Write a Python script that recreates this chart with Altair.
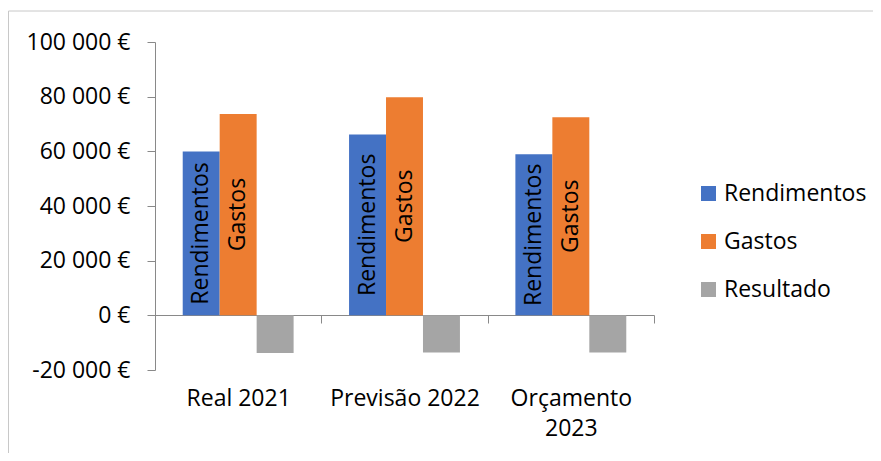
import altair as alt
import pandas as pd

categories = ["Real 2021", "Previsão 2022", "Orçamento 2023"]
series = ["Rendimentos", "Gastos", "Resultado"]
rendimentos = [59900, 66200, 58900]
gastos = [73700, 79800, 72500]
resultado = [-13800, -13600, -13600]
colors = ["#4472C4", "#ED7D31", "#A5A5A5"]
y_ticks = [-20000, 0, 20000, 40000, 60000, 80000, 100000]

rows = []
for i, c in enumerate(categories):
    for s, vals in zip(series, [rendimentos, gastos, resultado]):
        rows.append({"categoria": c, "serie": s, "valor": vals[i]})
df = pd.DataFrame(rows)

FONT = "Open Sans"
FS = 23
AX = "#898989"

x_enc = alt.X(
    "categoria:N", sort=categories, title=None,
    scale=alt.Scale(domain=categories, paddingInner=0, paddingOuter=0),
    axis=alt.Axis(
        offset=-55, domain=True, domainColor=AX, ticks=True, tickColor=AX,
        tickSize=8, tickBand="extent", labelAngle=0, labelFont=FONT,
        labelFontSize=FS, labelColor="black", labelPadding=64,
        labelBaseline="top", labelLineHeight=30,
        labelExpr="datum.label == 'Orçamento 2023' ? ['Orçamento', '2023'] : datum.label",
    ),
)
xoff_enc = alt.XOffset(
    "serie:N", sort=series,
    scale=alt.Scale(domain=series, paddingInner=0, paddingOuter=0.75),
)
y_enc = alt.Y(
    "valor:Q", title=None,
    scale=alt.Scale(domain=[-20000, 100000], nice=False, zero=True),
    axis=alt.Axis(
        values=y_ticks, grid=False, domainColor=AX, tickColor=AX, tickSize=8,
        labelPadding=17, labelFont=FONT, labelFontSize=FS, labelColor="black",
        labelExpr="(datum.value < 0 ? '-' : '') + replace(format(abs(datum.value), ','), ',', ' ') + ' €'",
    ),
)

bars = alt.Chart(df).mark_bar().encode(
    x=x_enc,
    xOffset=xoff_enc,
    y=y_enc,
    color=alt.Color(
        "serie:N", sort=series, title=None,
        scale=alt.Scale(domain=series, range=colors),
        legend=alt.Legend(
            orient="none", legendX=542, legendY=140, symbolType="square",
            symbolSize=225, symbolStrokeWidth=0, labelFont=FONT,
            labelFontSize=FS, labelColor="black", rowPadding=24,
            labelOffset=4,
        ),
    ),
)

labels = alt.Chart(df).transform_filter(
    "datum.serie != 'Resultado'"
).transform_calculate(
    meio="datum.valor / 2"
).mark_text(
    angle=270, font=FONT, fontSize=FS, color="black", align="center", baseline="middle"
).encode(
    x=alt.X("categoria:N", sort=categories),
    xOffset=alt.XOffset("serie:N", sort=series),
    y=alt.Y("meio:Q"),
    text="serie:N",
)

frame_df = pd.DataFrame({"k": [0]})
top_line = alt.Chart(frame_df).mark_rule(color="#C8C8C8", strokeWidth=1).encode(
    x=alt.value(-146.5), x2=alt.value(900), y=alt.value(-31)
)
left_line = alt.Chart(frame_df).mark_rule(color="#C8C8C8", strokeWidth=1).encode(
    x=alt.value(-146.5), y=alt.value(-31), y2=alt.value(600)
)

chart = alt.layer(top_line, left_line, bars, labels).properties(
    width=499, height=328,
    autosize=alt.AutoSizeParams(type="none"),
    padding={"left": 147, "top": 34, "right": 219, "bottom": 83},
).configure_view(stroke=None)

chart.save("out.html", embed_options={"renderer": "svg", "actions": False})
